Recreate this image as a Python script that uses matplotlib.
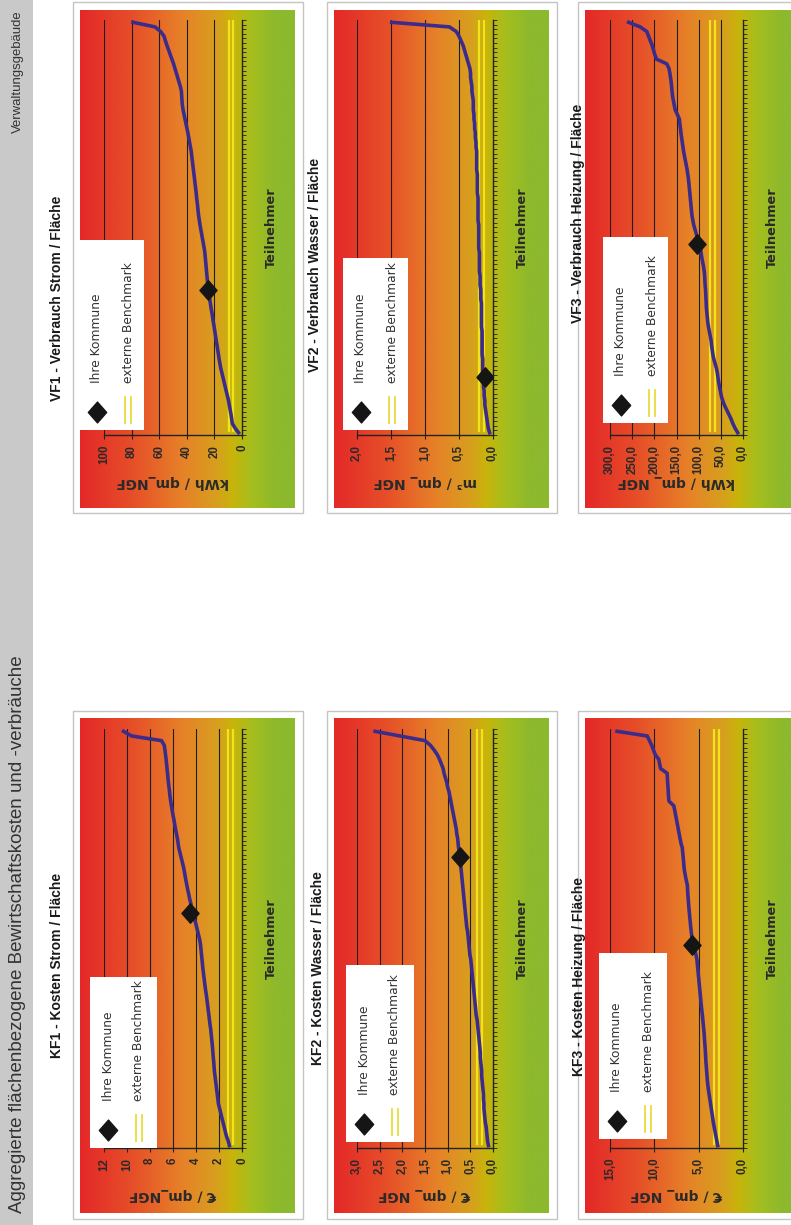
import numpy as np
import matplotlib
matplotlib.use("Agg")
import matplotlib.pyplot as plt
from matplotlib.patches import Rectangle
from matplotlib.colors import LinearSegmentedColormap
from matplotlib import transforms as mtransforms
import matplotlib.font_manager as fm
from matplotlib.path import Path

# ---------------- data ----------------
header_left = "Aggregierte flächenbezogene Bewirtschaftskosten und -verbräuche"
header_right = "Verwaltungsgebäude"
legend_labels = ["Ihre Kommune", "externe Benchmark"]
axis_participants = "Teilnehmer"

vf1_title = "VF1 - Verbrauch Strom / Fläche"
vf1_unit = "kWh / qm_NGF"
vf1_ticks = [0, 20, 40, 60, 80, 100]
vf1_ticklabels = ["0", "20", "40", "60", "80", "100"]
vf1_values = [2.5, 5.0, 7.0, 7.5, 8.0, 8.6, 9.2, 9.8, 10.6, 11.4,
              12.2, 13.0, 13.8, 14.6, 15.4, 16.0, 16.6, 17.1, 17.6, 18.1,
              18.7, 19.2, 19.7, 20.2, 20.8, 21.3, 21.8, 22.4, 22.9, 23.4,
              24.0, 24.4, 24.8, 25.1, 25.4, 25.7, 26.0, 26.3, 26.6, 26.9,
              27.4, 28.0, 28.6, 29.2, 29.8, 30.4, 30.9, 31.4, 31.8, 32.1,
              32.5, 32.9, 33.2, 33.6, 34.0, 34.4, 34.8, 35.2, 35.6, 36.0,
              36.4, 36.8, 37.4, 38.0, 38.6, 39.2, 39.9, 40.6, 41.3, 42.0,
              42.7, 43.2, 43.5, 43.7, 43.9, 44.6, 45.6, 46.6, 47.6, 48.6,
              49.6, 50.8, 52.0, 53.2, 54.4, 55.5, 56.5, 59.0, 63.0, 79.0]
vf1_benchmark = 8.0
vf1_own = (31, 25.0)

vf2_title = "VF2 - Verbrauch Wasser / Fläche"
vf2_unit = "m³ / qm_ NGF"
vf2_ticks = [0, 0.5, 1.0, 1.5, 2.0]
vf2_ticklabels = ["0,0", "0,5", "1,0", "1,5", "2,0"]
vf2_values = [0.05, 0.07, 0.08, 0.09, 0.10, 0.11, 0.12, 0.12, 0.13, 0.13,
              0.14, 0.14, 0.14, 0.15, 0.15, 0.15, 0.15, 0.16, 0.16, 0.16,
              0.16, 0.16, 0.16, 0.17, 0.17, 0.17, 0.17, 0.17, 0.17, 0.18,
              0.18, 0.18, 0.19, 0.19, 0.19, 0.20, 0.20, 0.20, 0.20, 0.20,
              0.21, 0.21, 0.21, 0.21, 0.21, 0.21, 0.22, 0.22, 0.22, 0.22,
              0.22, 0.22, 0.23, 0.23, 0.23, 0.23, 0.23, 0.24, 0.24, 0.24,
              0.24, 0.24, 0.25, 0.25, 0.26, 0.26, 0.27, 0.27, 0.28, 0.28,
              0.29, 0.29, 0.29, 0.30, 0.31, 0.31, 0.32, 0.33, 0.33, 0.34,
              0.36, 0.38, 0.40, 0.42, 0.44, 0.47, 0.50, 0.54, 0.64, 1.49]
vf2_benchmark = 0.17
vf2_own = (12, 0.12)

vf3_title = "VF3 - Verbrauch Heizung / Fläche"
vf3_unit = "kWh / qm_ NGF"
vf3_ticks = [0, 50, 100, 150, 200, 250, 300]
vf3_ticklabels = ["0,0", "50,0", "100,0", "150,0", "200,0", "250,0", "300,0"]
vf3_values = [12, 18, 23, 27, 32, 37, 42, 46, 49, 51,
              53, 55, 56.5, 58, 60, 63, 66, 68, 69.5, 71,
              72, 74, 76, 78, 79.5, 80.5, 81.5, 82.5, 83, 83.5,
              84, 84.5, 85.5, 86, 86.5, 87.5, 89, 91, 93, 94.5,
              96, 101, 103, 105, 108, 111, 113, 115, 116, 117,
              118, 119, 120, 121, 122, 123, 124.5, 126, 128, 130,
              132, 134, 135.5, 137, 138.5, 140, 141, 142.5, 143.5, 148,
              153, 155, 157, 159, 160, 161, 162, 163.5, 165, 167,
              172, 195, 199, 202, 205, 209, 213, 217, 232, 258]
vf3_benchmark = 69.0
vf3_own = (41, 104.0)

kf1_title = "KF1 - Kosten Strom / Fläche"
kf1_unit = "€ / qm_NGF"
kf1_ticks = [0, 2, 4, 6, 8, 10, 12]
kf1_ticklabels = ["0", "2", "4", "6", "8", "10", "12"]
kf1_values = [1.10, 1.20, 1.35, 1.45, 1.55, 1.65, 1.75, 1.85, 1.95, 2.05,
              2.10, 2.15, 2.20, 2.25, 2.30, 2.35, 2.40, 2.43, 2.46, 2.50,
              2.53, 2.56, 2.60, 2.64, 2.68, 2.72, 2.78, 2.83, 2.88, 2.93,
              2.98, 3.03, 3.08, 3.14, 3.20, 3.25, 3.30, 3.35, 3.40, 3.44,
              3.48, 3.52, 3.56, 3.60, 3.66, 3.75, 3.85, 3.95, 4.05, 4.20,
              4.35, 4.40, 4.45, 4.55, 4.63, 4.72, 4.80, 4.88, 4.95, 5.02,
              5.10, 5.20, 5.30, 5.40, 5.50, 5.56, 5.62, 5.70, 5.78, 5.85,
              5.92, 6.00, 6.07, 6.14, 6.20, 6.26, 6.30, 6.35, 6.40, 6.44,
              6.48, 6.52, 6.56, 6.60, 6.65, 6.70, 6.76, 7.00, 9.60, 10.30]
kf1_benchmark = 1.0
kf1_own = (50, 4.5)

kf2_title = "KF2 - Kosten Wasser / Fläche"
kf2_unit = "€ / qm_ NGF"
kf2_ticks = [0, 0.5, 1.0, 1.5, 2.0, 2.5, 3.0]
kf2_ticklabels = ["0,0", "0,5", "1,0", "1,5", "2,0", "2,5", "3,0"]
kf2_values = [0.10, 0.12, 0.13, 0.14, 0.15, 0.17, 0.18, 0.19, 0.20, 0.20,
              0.21, 0.21, 0.22, 0.23, 0.24, 0.25, 0.25, 0.26, 0.27, 0.28,
              0.28, 0.29, 0.30, 0.31, 0.32, 0.33, 0.34, 0.35, 0.37, 0.38,
              0.39, 0.40, 0.41, 0.42, 0.43, 0.44, 0.45, 0.46, 0.47, 0.48,
              0.49, 0.51, 0.52, 0.53, 0.54, 0.55, 0.56, 0.58, 0.59, 0.60,
              0.61, 0.62, 0.63, 0.64, 0.65, 0.66, 0.67, 0.68, 0.69, 0.70,
              0.71, 0.72, 0.73, 0.74, 0.76, 0.77, 0.78, 0.80, 0.81, 0.83,
              0.85, 0.87, 0.89, 0.91, 0.93, 0.95, 0.97, 1.00, 1.02, 1.05,
              1.08, 1.10, 1.14, 1.18, 1.23, 1.30, 1.38, 1.50, 2.05, 2.60]
kf2_benchmark = 0.30
kf2_own = (62, 0.73)

kf3_title = "KF3 - Kosten Heizung / Fläche"
kf3_unit = "€ / qm_ NGF"
kf3_ticks = [0, 5, 10, 15]
kf3_ticklabels = ["0,0", "5,0", "10,0", "15,0"]
kf3_values = [2.85, 2.95, 3.05, 3.15, 3.25, 3.35, 3.42, 3.50, 3.58, 3.66,
              3.74, 3.82, 3.90, 3.97, 4.02, 4.06, 4.10, 4.14, 4.18, 4.21,
              4.24, 4.27, 4.31, 4.35, 4.38, 4.43, 4.48, 4.53, 4.58, 4.64,
              4.70, 4.75, 4.80, 4.85, 4.90, 4.95, 5.00, 5.05, 5.10, 5.15,
              5.20, 5.30, 5.45, 5.60, 5.70, 5.78, 5.84, 5.90, 5.95, 6.00,
              6.05, 6.10, 6.14, 6.18, 6.22, 6.25, 6.28, 6.40, 6.50, 6.60,
              6.66, 6.70, 6.75, 6.80, 6.85, 7.00, 7.10, 7.20, 7.30, 7.40,
              7.50, 7.60, 7.70, 7.80, 8.35, 8.40, 8.43, 8.46, 8.50, 8.53,
              8.56, 9.30, 9.40, 9.50, 9.90, 10.10, 10.30, 10.55, 10.80, 14.20]
kf3_benchmark = 3.0
kf3_own = (43, 5.7)

# ---------------- style / layout ----------------
W, H = 791, 1225
_avail = {f.name for f in fm.fontManager.ttflist}
NARROW = "Liberation Sans Narrow" if "Liberation Sans Narrow" in _avail else "Liberation Sans"
NSCALE = 1.0 if NARROW == "Liberation Sans Narrow" else 0.82
WIDE = "DejaVu Sans"
TXT = "#2a2a2a"

grad_cmap = LinearSegmentedColormap.from_list("bg", [
    (0.00, "#e42828"), (0.25, "#e65028"), (0.48, "#e68228"),
    (0.64, "#d7a01e"), (0.71, "#c8b40a"), (0.80, "#a5be1e"),
    (0.92, "#8cb92d"), (1.00, "#8cb92d")])
CURVE = "#3b2c8c"
BENCH = "#f2e41c"
diamond = Path([(0, 1), (0.88, 0), (0, -1), (-0.88, 0), (0, 1)],
               [Path.MOVETO, Path.LINETO, Path.LINETO, Path.LINETO, Path.CLOSEPOLY])

COL_BOX = [73, 327, 578]
BOX_W = 230
COL_PLOT = [(104, 242), (357, 493), (610, 743)]
ROW_BOX = {"VF": (2, 513), "KF": (711, 1219)}
ROW_GRAD = {"VF": (10, 508), "KF": (718, 1213)}
ROW_PLOT = {"VF": (20, 435), "KF": (729, 1148)}

fig = plt.figure(figsize=(W / 100, H / 100), dpi=100)
fig.patch.set_facecolor("white")


def rect(x0, y0, x1, y1):
    return [x0 / W, 1 - y1 / H, (x1 - x0) / W, (y1 - y0) / H]


def fpt(x, y):
    return x / W, 1 - y / H


# header bar
fig.add_artist(Rectangle((0, 0), 33 / W, 1, transform=fig.transFigure,
                         facecolor="#c9c9c9", edgecolor="none", zorder=-2))
fig.text(*fpt(18, 1213), header_left, rotation=90, rotation_mode="anchor",
         ha="left", va="center", fontsize=13.5, family="Liberation Sans", color="#333333")
fig.text(*fpt(18, 10), header_right, rotation=90, rotation_mode="anchor",
         ha="right", va="center", fontsize=11.5 * NSCALE, family=NARROW, color="#333333")


def draw_chart(col, row, title, title_xy, unit, ticks, ticklabels, values,
               bench, own, legend_box):
    bx0 = COL_BOX[col]
    by0, by1 = ROW_BOX[row]
    fig.add_artist(Rectangle(fpt(bx0, by1), BOX_W / W, (by1 - by0) / H,
                             transform=fig.transFigure, facecolor="white",
                             edgecolor="#c4c4c4", lw=1.0, zorder=-1))
    gy0, gy1 = ROW_GRAD[row]
    axg = fig.add_axes(rect(bx0 + 7, gy0, bx0 + 222, gy1))
    axg.imshow(np.linspace(0, 1, 256)[None, :], cmap=grad_cmap, aspect="auto",
               interpolation="bilinear")
    axg.axis("off")

    px0, px1 = COL_PLOT[col]
    py0, py1 = ROW_PLOT[row]
    ax = fig.add_axes(rect(px0, py0, px1, py1))
    ax.patch.set_visible(False)
    n = len(values)
    idx = np.arange(n) + 0.5
    ax.set_xlim(ticks[-1], ticks[0])
    ax.set_ylim(0, n)
    ax.set_xticks(ticks)
    ax.set_xticklabels(ticklabels, rotation=90, family="Liberation Sans", weight="bold",
                       fontsize=8.3, color=TXT)
    ax.tick_params(axis="x", length=3, width=0.8, pad=4, color="#222222")
    ax.yaxis.tick_right()
    ax.set_yticks(np.arange(0, n + 1))
    ax.set_yticklabels([])
    ax.tick_params(axis="y", length=3.2, width=0.7, color="#333333", direction="out")
    for s in ("top", "left"):
        ax.spines[s].set_visible(False)
    ax.spines["right"].set_color("#222222")
    ax.spines["right"].set_linewidth(1.0)
    ax.spines["bottom"].set_color("#222222")
    ax.spines["bottom"].set_linewidth(1.0)
    for t in ticks[1:]:
        ax.axvline(t, color="#1e1e1e", lw=0.8, zorder=1)

    for dx in (-2.3, 2.3):
        tr = mtransforms.offset_copy(ax.transData, fig=fig, x=dx, y=0, units="dots")
        ax.plot([bench, bench], [0.8, n - 0.3], color=BENCH, lw=1.6, transform=tr, zorder=2)

    ax.plot(values, idx, color=CURVE, lw=2.6, solid_joinstyle="round", zorder=3)
    ax.plot([own[1]], [own[0] + 0.5], marker=diamond, ms=14, color="#151515",
            linestyle="none", zorder=4)

    # labels
    fig.text(*fpt(*title_xy), title, rotation=90, ha="center", va="center",
             family=NARROW, weight="bold", fontsize=12.2 * NSCALE, color="#1a1a1a")
    fig.text(*fpt(px1 + 29, (py0 + py1) / 2), axis_participants, rotation=90,
             ha="center", va="center", family=WIDE, weight="bold", fontsize=9.3, color=TXT)
    fig.text(*fpt((px0 + px1) / 2, py1 + 47), unit, rotation=180, ha="center",
             va="center", family=WIDE, weight="bold", fontsize=10, color=TXT)

    # legend
    lx0, lx1, ly0, ly1 = legend_box
    lw_, lh_ = lx1 - lx0, ly1 - ly0
    axl = fig.add_axes(rect(lx0, ly0, lx1, ly1))
    axl.set_xlim(0, lw_)
    axl.set_ylim(0, lh_)
    axl.axis("off")
    axl.add_patch(Rectangle((0, 0), lw_, lh_, facecolor="white", edgecolor="none"))
    axl.plot([18], [18], marker=diamond, ms=15, color="#151515", linestyle="none")
    for xx in (46, 52):
        axl.plot([xx, xx], [7, 33], color="#e8dc3a", lw=1.3)
    axl.text(18, 47, legend_labels[0], rotation=90, rotation_mode="anchor",
             ha="left", va="center", family=WIDE, fontsize=8.8, color="#333333")
    axl.text(49, 47, legend_labels[1], rotation=90, rotation_mode="anchor",
             ha="left", va="center", family=WIDE, fontsize=8.8, color="#333333")


draw_chart(0, "VF", vf1_title, (57, 298), vf1_unit, vf1_ticks, vf1_ticklabels,
           vf1_values, vf1_benchmark, vf1_own, (79, 144, 240, 430))
draw_chart(1, "VF", vf2_title, (315, 265), vf2_unit, vf2_ticks, vf2_ticklabels,
           vf2_values, vf2_benchmark, vf2_own, (343, 408, 258, 430))
draw_chart(2, "VF", vf3_title, (578, 213), vf3_unit, vf3_ticks, vf3_ticklabels,
           vf3_values, vf3_benchmark, vf3_own, (603, 668, 237, 423))
draw_chart(0, "KF", kf1_title, (57, 965), kf1_unit, kf1_ticks, kf1_ticklabels,
           kf1_values, kf1_benchmark, kf1_own, (90, 157, 977, 1148))
draw_chart(1, "KF", kf2_title, (318, 968), kf2_unit, kf2_ticks, kf2_ticklabels,
           kf2_values, kf2_benchmark, kf2_own, (346, 414, 965, 1142))
draw_chart(2, "KF", kf3_title, (579, 977), kf3_unit, kf3_ticks, kf3_ticklabels,
           kf3_values, kf3_benchmark, kf3_own, (599, 667, 953, 1139))

fig.savefig("out.png", dpi=100, facecolor="white")
